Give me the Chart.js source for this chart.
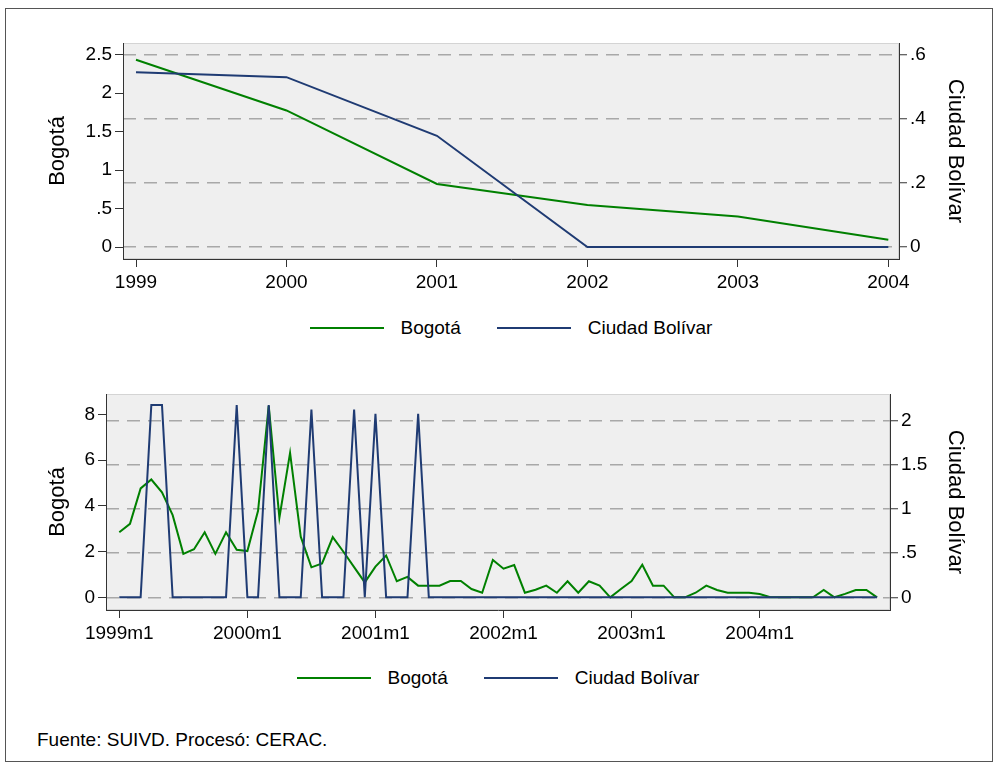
<!DOCTYPE html>
<html lang="es">
<head>
<meta charset="utf-8">
<title>Bogotá y Ciudad Bolívar</title>
<script src="https://cdn.jsdelivr.net/npm/chart.js@4.4.1/dist/chart.umd.min.js"></script>
<style>
  body { margin: 0; background: #fff; font-family: "Liberation Sans", Arial, sans-serif; }
  #page { position: relative; width: 997px; height: 767px; overflow: hidden; }
  #frame { position: absolute; left: 5px; top: 8px; width: 988px; height: 754px; border: 1px solid #555; box-sizing: border-box; }
  canvas { position: absolute; left: 0; }
  .legend { position: absolute; display: flex; align-items: center; font-size: 19px; color: #000; white-space: nowrap; }
  .legend .item { display: flex; align-items: center; margin-right: 36px; }
  .legend .item:last-child { margin-right: 0; }
  .legend .swatch { display: inline-block; width: 74px; height: 2px; margin-right: 17px; }
  #nota { position: absolute; left: 37px; top: 729px; font-size: 19px; color: #000; }
</style>
</head>
<body>
<div id="page">
  <div id="frame"></div>
  <canvas id="panelAnual" width="997" height="300" style="top:0"></canvas>
  <div class="legend" id="leyendaAnual"></div>
  <canvas id="panelMensual" width="997" height="310" style="top:350px"></canvas>
  <div class="legend" id="leyendaMensual"></div>
  <div id="nota">Fuente: SUIVD. Procesó: CERAC.</div>
</div>
<script>
// Datos anuales
const anios = [1999, 2000, 2001, 2002, 2003, 2004];
const bogotaAnual = [2.435, 1.775, 0.82, 0.547, 0.395, 0.095];
const bolivarAnual = [0.545, 0.53, 0.347, 0, 0, 0];

// Datos mensuales, 1999m1 a 2004m12 (índice de mes 0..71)
const meses = Array.from({length: 72}, (_, i) => i);
const bogotaMensual = [
  2.84, 3.21, 4.76, 5.15, 4.59, 3.59, 1.90, 2.10, 2.84, 1.90, 2.84, 2.08,
  2.02, 3.78, 8.37, 3.48, 6.31, 2.65, 1.31, 1.48, 2.63, 1.99, 1.32, 0.65,
  1.34, 1.83, 0.70, 0.89, 0.51, 0.51, 0.51, 0.71, 0.71, 0.36, 0.20, 1.63,
  1.25, 1.41, 0.20, 0.33, 0.51, 0.20, 0.70, 0.20, 0.70, 0.51, 0, 0.36,
  0.71, 1.42, 0.51, 0.51, 0, 0, 0.20, 0.51, 0.32, 0.20, 0.20, 0.20,
  0.14, 0, 0, 0, 0, 0, 0.32, 0, 0.15, 0.32, 0.32, 0
];
const bolivarMensual = [
  0, 0, 0, 2.18, 2.18, 0, 0, 0, 0, 0, 0, 2.18,
  0, 0, 2.18, 0, 0, 0, 2.13, 0, 0, 0, 2.13, 0,
  2.08, 0, 0, 0, 2.08, 0, 0, 0, 0, 0, 0, 0,
  0, 0, 0, 0, 0, 0, 0, 0, 0, 0, 0, 0,
  0, 0, 0, 0, 0, 0, 0, 0, 0, 0, 0, 0,
  0, 0, 0, 0, 0, 0, 0, 0, 0, 0, 0, 0
];

// Ejes
const ticksAnioX = [1999, 2000, 2001, 2002, 2003, 2004];
const etiquetasAnioX = ['1999', '2000', '2001', '2002', '2003', '2004'];
const ticksAnioIzq = [0, 0.5, 1, 1.5, 2, 2.5];
const etiquetasAnioIzq = ['0', '.5', '1', '1.5', '2', '2.5'];
const ticksAnioDer = [0, 0.2, 0.4, 0.6];
const etiquetasAnioDer = ['0', '.2', '.4', '.6'];
const ticksMesX = [0, 12, 24, 36, 48, 60];
const etiquetasMesX = ['1999m1', '2000m1', '2001m1', '2002m1', '2003m1', '2004m1'];
const ticksMesIzq = [0, 2, 4, 6, 8];
const etiquetasMesIzq = ['0', '2', '4', '6', '8'];
const ticksMesDer = [0, 0.5, 1, 1.5, 2];
const etiquetasMesDer = ['0', '.5', '1', '1.5', '2'];

const VERDE = '#008000';
const AZUL = '#1f3b73';
const FUENTE = '"Liberation Sans", Arial, sans-serif';
const fuenteTicks = { family: FUENTE, size: 19 };
const fuenteTitulo = { family: FUENTE, size: 22 };

// Fondo gris de la región del gráfico
const fondoPlot = {
  id: 'fondoPlot',
  beforeDraw(chart) {
    const { ctx, chartArea: a } = chart;
    ctx.save();
    ctx.fillStyle = '#efefef';
    ctx.fillRect(a.left, a.top, a.width, a.height);
    ctx.strokeStyle = '#d4d4d4';
    ctx.lineWidth = 1;
    ctx.strokeRect(a.left + 0.5, a.top + 0.5, a.width - 1, a.height - 1);
    ctx.restore();
  }
};

function ejeY(pos, cfg) {
  const izq = pos === 'left';
  return {
    position: pos,
    min: cfg.min,
    max: cfg.max,
    afterBuildTicks: s => { s.ticks = cfg.ticks.map(v => ({ value: v })); },
    afterFit: s => { s.width = cfg.ancho; },
    ticks: { padding: 3, color: '#000', font: fuenteTicks, callback: (v, i) => cfg.etiquetas[i] },
    grid: {
      drawOnChartArea: !izq,
      color: '#a8a8a8',
      lineWidth: izq ? 1 : 1.5,
      tickLength: 8,
      tickColor: '#333',
      tickWidth: 1
    },
    border: { color: '#333', width: 1, dash: izq ? [] : [13, 8] },
    title: {
      display: true,
      text: cfg.titulo,
      color: '#000',
      font: fuenteTitulo,
      padding: { top: izq ? 45 : 29, bottom: 0 }
    }
  };
}

function crearPanel(canvasId, cfg) {
  const ctx = document.getElementById(canvasId).getContext('2d');
  return new Chart(ctx, {
    type: 'line',
    data: {
      datasets: [
        {
          label: 'Bogotá',
          data: cfg.x.map((x, i) => ({ x: x, y: cfg.bogota[i] })),
          yAxisID: 'yIzq',
          borderColor: VERDE,
          backgroundColor: VERDE,
          borderWidth: 2,
          pointRadius: 0,
          tension: 0,
          order: 1
        },
        {
          label: 'Ciudad Bolívar',
          data: cfg.x.map((x, i) => ({ x: x, y: cfg.bolivar[i] })),
          yAxisID: 'yDer',
          borderColor: AZUL,
          backgroundColor: AZUL,
          borderWidth: 2,
          pointRadius: 0,
          tension: 0,
          order: 0
        }
      ]
    },
    options: {
      responsive: false,
      animation: false,
      layout: { padding: { top: cfg.padTop, bottom: 0, left: 0, right: 0 } },
      plugins: { legend: { display: false }, tooltip: { enabled: false } },
      scales: {
        x: {
          type: 'linear',
          min: cfg.xMin,
          max: cfg.xMax,
          afterBuildTicks: s => { s.ticks = cfg.xTicks.map(v => ({ value: v })); },
          afterFit: s => { s.height = cfg.altoX; },
          ticks: {
            autoSkip: false,
            maxRotation: 0,
            padding: 4,
            color: '#000',
            font: fuenteTicks,
            callback: (v, i) => cfg.xEtiquetas[i]
          },
          grid: { drawOnChartArea: false, tickLength: 8, tickColor: '#333', tickWidth: 1 },
          border: { color: '#333', width: 1 }
        },
        yIzq: ejeY('left', cfg.izq),
        yDer: ejeY('right', cfg.der)
      }
    },
    plugins: [fondoPlot]
  });
}

function crearLeyenda(chart, id, centroY) {
  const cont = document.getElementById(id);
  chart.data.datasets.forEach(ds => {
    const item = document.createElement('div');
    item.className = 'item';
    const sw = document.createElement('span');
    sw.className = 'swatch';
    sw.style.background = ds.borderColor;
    const txt = document.createElement('span');
    txt.textContent = ds.label;
    item.appendChild(sw);
    item.appendChild(txt);
    cont.appendChild(item);
  });
  const a = chart.chartArea;
  const canvasTop = chart.canvas.offsetTop;
  cont.style.left = ((a.left + a.right) / 2 - cont.offsetWidth / 2) + 'px';
  cont.style.top = (centroY - cont.offsetHeight / 2) + 'px';
}

const panelAnual = crearPanel('panelAnual', {
  x: anios, bogota: bogotaAnual, bolivar: bolivarAnual,
  padTop: 43, altoX: 41,
  xMin: 1998.9136, xMax: 2004.071, xTicks: ticksAnioX, xEtiquetas: etiquetasAnioX,
  izq: { min: -0.156, max: 2.652, ticks: ticksAnioIzq, etiquetas: etiquetasAnioIzq, ancho: 123, titulo: 'Bogotá' },
  der: { min: -0.0374, max: 0.6365, ticks: ticksAnioDer, etiquetas: etiquetasAnioDer, ancho: 98, titulo: 'Ciudad Bolívar' }
});

const panelMensual = crearPanel('panelMensual', {
  x: meses, bogota: bogotaMensual, bolivar: bolivarMensual,
  padTop: 44, altoX: 50,
  xMin: -1.246, xMax: 72.21, xTicks: ticksMesX, xEtiquetas: etiquetasMesX,
  izq: { min: -0.555, max: 8.887, ticks: ticksMesIzq, etiquetas: etiquetasMesIzq, ancho: 106, titulo: 'Bogotá' },
  der: { min: -0.144, max: 2.306, ticks: ticksMesDer, etiquetas: etiquetasMesDer, ancho: 107, titulo: 'Ciudad Bolívar' }
});

crearLeyenda(panelAnual, 'leyendaAnual', 328);
crearLeyenda(panelMensual, 'leyendaMensual', 678);
</script>
</body>
</html>
